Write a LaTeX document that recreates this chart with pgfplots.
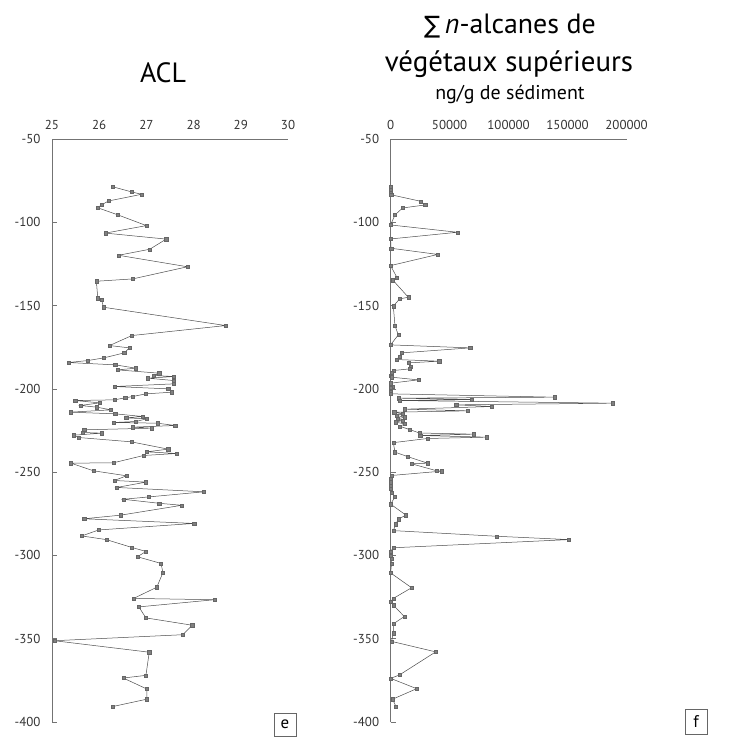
\documentclass[border=0pt]{standalone}
\usepackage{pgfplots}
\pgfplotsset{compat=1.18}
\usepackage{fontspec}
\setmainfont{PT Sans}
\newfontfamily\symfont{DejaVu Sans}
\pgfplotsset{
  panel/.style={
    scale only axis, width=236bp, height=583bp,
    anchor=south west,
    ymin=-400, ymax=-50,
    axis x line=top, axis y line=left,
    axis line style={-, draw=black!55, line width=0.6bp},
    tick style={draw=black!55, line width=0.6bp},
    xtick style={draw=none},
    tick align=inside,
    major tick length=5bp,
    ytick={-400,-350,-300,-250,-200,-150,-100,-50},
    yticklabels={-400,-350,-300,-250,-200,-150,-100,-50},
    ticklabel style={font=\fontsize{13}{13}\selectfont, text=black!80},
    xticklabel style={yshift=6bp},
    yticklabel style={xshift=-8bp},
    clip=false,
  },
  xticks/.style={
    scale only axis, width=236bp, height=12bp,
    anchor=south west,
    ymin=0, ymax=1,
    axis lines=none,
    xmajorgrids, grid style={draw=black!60, line width=0.7bp},
    major tick length=0pt,
    ytick=\empty, xticklabels={},
  },
  dat/.style={draw=black!70, line width=0.5bp, mark=square*, mark size=1.6bp,
    mark options={fill=black!50, draw=black!60, line width=0.3bp}},
}
\begin{document}
\begin{tikzpicture}
\path[use as bounding box] (0bp,0bp) rectangle (740bp,738bp);
\begin{axis}[xticks, at={(52bp,587bp)}, xmin=25, xmax=30, xtick={26,27,28,29,30}]
\end{axis}
\begin{axis}[panel, at={(52bp,16bp)}, xmin=25, xmax=30,
  xtick={25,26,27,28,29,30}, xticklabels={25,26,27,28,29,30}]
\addplot[dat] coordinates {
(26.29,-78.7) (26.69,-81.8) (26.90,-83.2) (26.20,-87.2) (26.05,-89.5)
(25.97,-91.3) (26.39,-95.5) (27.00,-102) (26.13,-106.5) (27.42,-110.1)
(27.07,-116.2) (26.41,-119.8) (27.87,-126.7) (26.71,-134) (25.94,-135.4)
(25.97,-145.5) (26.05,-146.4) (26.09,-151) (28.68,-162) (26.69,-168)
(26.22,-174) (26.64,-175.4) (26.53,-178.4) (26.10,-181.4) (25.76,-183)
(25.35,-184.2) (26.34,-185.6) (26.78,-187.6) (26.39,-188.6) (27.27,-190.6)
(27.16,-192) (27.58,-192.6) (27.03,-193.6) (27.58,-195) (27.58,-197)
(26.32,-198.6) (27.46,-200) (27.54,-202) (26.99,-203) (26.71,-204.6)
(26.55,-205.4) (26.32,-206.6) (25.49,-207) (26.01,-208.4) (25.60,-210)
(25.95,-211) (26.25,-212.6) (25.39,-214) (26.34,-215) (26.92,-216.6)
(26.57,-217.4) (27.00,-218) (26.78,-219.6) (26.30,-220.2) (27.23,-220.6)
(27.61,-222) (26.71,-223) (27.11,-223.6) (25.68,-224.6) (25.65,-226.2)
(26.06,-226.6) (25.46,-227.8) (25.56,-229.2) (26.68,-231.8) (27.46,-236.2)
(27.01,-237.8) (27.64,-238.8) (26.94,-240) (26.30,-244.4) (25.40,-244.6)
(25.88,-249.2) (26.58,-252.2) (26.32,-255) (26.99,-256) (26.37,-259.2)
(28.22,-261.8) (27.04,-264.9) (26.51,-266.3) (27.27,-268.7) (27.75,-269.9)
(26.46,-275.8) (25.68,-278) (28.01,-280.8) (25.99,-284.7) (25.63,-288.3)
(26.15,-290.5) (26.69,-295.2) (26.99,-297.6) (26.81,-300.8) (27.31,-304.8)
(27.35,-310.3) (27.22,-319.1) (26.73,-325.8) (28.44,-326.6) (26.84,-330.9)
(26.99,-337.5) (27.97,-341.9) (27.77,-347.6) (25.05,-351.2) (27.06,-358.1)
(26.99,-372) (26.51,-373.6) (27.01,-380.2) (27.01,-386.3) (26.29,-390.7)
};
\end{axis}
\begin{axis}[xticks, at={(390.6bp,587bp)}, xmin=0, xmax=200000, scaled x ticks=false,
  xtick={50000,100000,150000,200000}]
\end{axis}
\begin{axis}[panel, at={(390.6bp,16bp)}, xmin=0, xmax=200000,
  scaled x ticks=false,
  xtick={0,50000,100000,150000,200000}, xticklabels={0,50000,100000,150000,200000}]
\addplot[dat] coordinates {
(0,-78.6) (0,-80.5) (0,-82.5) (500,-83.5) (25500,-87.4) (29200,-89.6)
(10200,-91.4) (3700,-95.6) (0,-101.6) (56600,-106) (0,-110) (400,-115.6)
(40000,-119.3) (0,-126) (5400,-133.2) (2000,-134.8) (15000,-145) (7600,-146)
(2300,-150.4) (3700,-162) (6500,-167.6) (0,-173.6) (67400,-175.4) (9300,-178.4)
(7400,-180.6) (5100,-182.4) (41100,-183.4) (15000,-184.4) (17000,-186.6)
(16400,-188) (2300,-189) (800,-190.5) (0,-192) (800,-193) (23500,-194.6)
(0,-196.6) (2000,-198.5) (0,-199.5) (0,-201.5) (0,-203) (139000,-205)
(7000,-205.6) (68800,-206.4) (7400,-207) (188400,-208.6) (55500,-209.6)
(85800,-210.6) (12200,-212.2) (65400,-213.2) (3000,-214) (10000,-215)
(5000,-216) (12000,-217) (6000,-218) (10000,-219) (4000,-220) (12000,-221)
(8000,-222.5) (16400,-224.5) (24400,-226.5) (70300,-227.2) (25000,-228)
(81600,-229) (31200,-229.8) (2300,-232.3) (3700,-238) (14200,-240.6)
(31200,-244.6) (17800,-245) (39100,-249.2) (43300,-249.4) (800,-252)
(0,-254) (0,-256) (0,-258) (0,-260) (800,-262.3) (3700,-264.9) (0,-269.2)
(13000,-275.8) (6500,-278.2) (4500,-281.2) (2300,-285.1) (90100,-288.5)
(151000,-290.5) (2300,-295.4) (0,-297.6) (0,-300) (800,-302) (800,-305)
(0,-310.5) (17800,-319.4) (2300,-325.8) (0,-327.8) (2300,-329.8)
(11600,-336.7) (2300,-341.1) (2300,-346.6) (800,-351.6) (38200,-357.9)
(7400,-371.8) (0,-373.8) (22100,-380) (1700,-386.3) (4500,-390.7)
};
\end{axis}
\node[font=\fontsize{28}{28}\selectfont] at (163bp,665bp) {ACL};
\node[font=\fontsize{28}{28}\selectfont] at (510bp,712bp) {{\symfont\fontsize{24}{24}\selectfont ∑}\,\textit{n}-alcanes de};
\node[font=\fontsize{29}{29}\selectfont] at (509bp,674bp) {végétaux supérieurs};
\node[font=\fontsize{20}{20}\selectfont] at (510bp,644bp) {ng/g de sédiment};
\node[draw=black!60, line width=0.5bp, minimum width=22bp, minimum height=23bp,
  inner sep=0pt, font=\fontsize{17}{17}\selectfont, anchor=north] at (285bp,25bp) {e};
\node[draw=black!60, line width=0.5bp, minimum width=22bp, minimum height=25bp,
  inner sep=0pt, font=\fontsize{17}{17}\selectfont, anchor=north] at (696bp,29bp) {f};
\end{tikzpicture}
\end{document}
